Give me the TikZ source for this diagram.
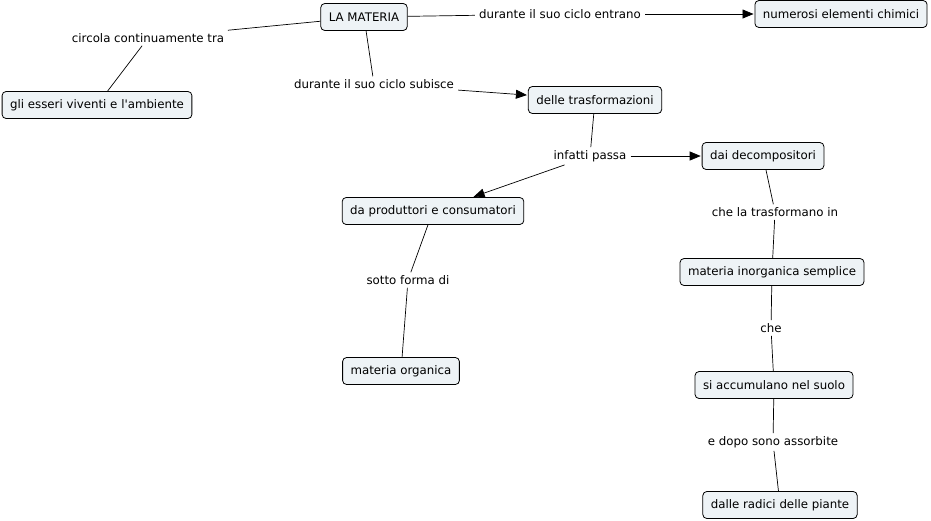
\documentclass[tikz,border=0pt]{standalone}
\usepackage{fontspec}
\setmainfont{DejaVu Sans}
\usetikzlibrary{arrows.meta}
\definecolor{boxfill}{RGB}{238,243,246}

\begin{document}
\begin{tikzpicture}[x=1pt,y=-1pt,
        concept/.style={draw,rounded corners=4pt,fill=boxfill,line width=0.8pt,
            inner xsep=8pt,minimum height=27pt,font=\fontsize{11.8}{13}\selectfont},
        link/.style={inner xsep=4pt,inner ysep=3pt,font=\fontsize{11.8}{13}\selectfont},
        conn/.style={line width=0.7pt},
        arr/.style={conn,-{Triangle[length=11pt,width=9pt]},shorten >=1pt}]
        \useasboundingbox (0,0) rectangle (931,520);

        % concepts
        \node[concept] (materia) at (364,17) {LA MATERIA};
        \node[concept] (elementi) at (841,14) {numerosi elementi chimici};
        \node[concept] (viventi) at (97,105) {gli esseri viventi e l\textquotesingle ambiente};
        \node[concept] (trasf) at (595,100) {delle trasformazioni};
        \node[concept] (decomp) at (763,156) {dai decompositori};
        \node[concept] (produttori) at (433,211) {da produttori e consumatori};
        \node[concept] (inorganica) at (772,272) {materia inorganica semplice};
        \node[concept] (organica) at (401,371) {materia organica};
        \node[concept] (suolo) at (774,385) {si accumulano nel suolo};
        \node[concept] (radici) at (780,505) {dalle radici delle piante};

        % link labels
        \node[link] (circola) at (148,38) {circola continuamente tra};
        \node[link] (entrano) at (560,14) {durante il suo ciclo entrano};
        \node[link] (subisce) at (374,84) {durante il suo ciclo subisce};
        \node[link] (passa) at (590,156) {infatti passa};
        \node[link] (trasforma) at (775,212) {che la trasformano in};
        \node[link] (forma) at (408,280) {sotto forma di};
        \node[link] (che) at (771,328) {che};
        \node[link] (assorbite) at (773,442) {e dopo sono assorbite};

        % connectors
        \draw[conn] (materia) -- (circola);
        \draw[conn] (circola) -- (viventi);
        \draw[conn] (materia) -- (entrano);
        \draw[arr] (entrano) -- (elementi);
        \draw[conn] (materia) -- (subisce);
        \draw[arr] (subisce) -- (trasf);
        \draw[conn] (trasf) -- (passa);
        \draw[arr] (passa) -- (decomp);
        \draw[arr] (passa) -- (produttori);
        \draw[conn] (decomp) -- (trasforma);
        \draw[conn] (trasforma) -- (inorganica);
        \draw[conn] (inorganica) -- (che);
        \draw[conn] (che) -- (suolo);
        \draw[conn] (suolo) -- (assorbite);
        \draw[conn] (assorbite) -- (radici);
        \draw[conn] (produttori) -- (forma);
        \draw[conn] (forma) -- (organica);
    \end{tikzpicture}
\end{document}
